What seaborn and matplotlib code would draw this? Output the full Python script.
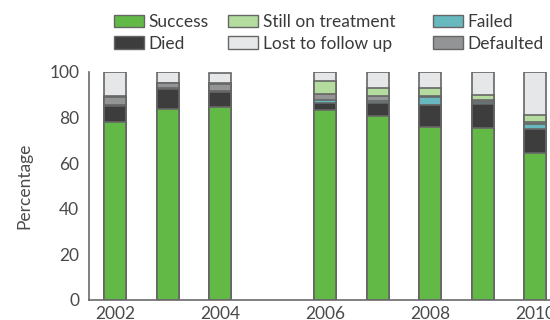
import matplotlib
matplotlib.use("Agg")
import matplotlib.pyplot as plt
from matplotlib.patches import Patch
import numpy as np
import pandas as pd
import seaborn as sns

# treatment outcome shares per cohort year (2005 has no data)
years = [2002, 2003, 2004, 2006, 2007, 2008, 2009, 2010]
success = [78.0, 83.7, 84.8, 83.4, 80.8, 75.7, 75.4, 64.5]
died = [7.0, 9.0, 6.5, 3.2, 5.8, 9.8, 10.5, 10.5]
failed = [0.5, 0.3, 0.2, 1.0, 0.7, 3.6, 0.8, 2.2]
defaulted = [3.5, 2.3, 3.2, 2.9, 2.1, 0.5, 0.8, 0.7]
still_on_treatment = [0.3, 0.0, 0.5, 5.5, 3.7, 3.6, 2.2, 3.2]
lost_to_follow_up = [10.7, 4.7, 4.3, 4.0, 6.9, 6.8, 10.3, 18.9]

outcomes = ["Success", "Died", "Failed", "Defaulted", "Still on treatment", "Lost to follow up"]
values = [success, died, failed, defaulted, still_on_treatment, lost_to_follow_up]
colors = {
    "Success": "#62b946",
    "Died": "#3d3d3d",
    "Failed": "#67b9bf",
    "Defaulted": "#939496",
    "Still on treatment": "#b3dc9e",
    "Lost to follow up": "#e6e7e8",
}

sns.set_style("white")
plt.rcParams["font.family"] = ["Lato", "DejaVu Sans"]
text_col = "#4a4a4a"

df = pd.DataFrame(dict(zip(outcomes, values)), index=years)
cum = df.cumsum(axis=1)

fig = plt.figure(figsize=(5.5, 3.2), dpi=100)
ax = fig.add_axes([89 / 550, 20 / 320, 472.5 / 550, 228 / 320])

# stacked bars: draw cumulative totals from the top layer down
for name in outcomes[::-1]:
    sns.barplot(x=years, y=cum[name].values, native_scale=True, width=0.42,
                color=colors[name], edgecolor="#666666", linewidth=1.2,
                saturation=1, errorbar=None, ax=ax)

ax.set_xlim(2001.5, 2010.5)
ax.set_ylim(0, 100)
ax.set_xticks([2002, 2004, 2006, 2008, 2010])
ax.set_xticklabels(["2002", "2004", "2006", "2008", "2010"])
ax.set_xticks(np.arange(2002.5, 2010, 1), minor=True)
ax.set_yticks([0, 20, 40, 60, 80, 100])
ax.tick_params(axis="x", which="major", length=0, pad=4, labelsize=12.5, labelcolor=text_col)
ax.tick_params(axis="x", which="minor", direction="in", length=5, width=1.2, color="#6a6a6a")
ax.tick_params(axis="y", direction="in", length=8, width=1.2, color="#6a6a6a",
               pad=7, labelsize=12.5, labelcolor=text_col)
ax.set_xlabel("")
ax.set_ylabel("Percentage", fontsize=12.5, color=text_col, labelpad=12)
for side in ["top", "right"]:
    ax.spines[side].set_visible(False)
for side in ["left", "bottom"]:
    ax.spines[side].set_color("#6a6a6a")
    ax.spines[side].set_linewidth(1.2)

# legend: three columns placed by hand
cols = [(["Success", "Died"], 114), (["Still on treatment", "Lost to follow up"], 228),
        (["Failed", "Defaulted"], 433)]
for names, xpix in cols:
    handles = [Patch(facecolor=colors[n], edgecolor="#666666", linewidth=1.0, label=n) for n in names]
    fig.legend(handles=handles, loc="upper left", bbox_to_anchor=(xpix / 550, 1 - 14 / 320),
               frameon=False, fontsize=12.5, labelcolor="#3a3a3a", handlelength=1.75,
               handleheight=0.7, handletextpad=0.25, labelspacing=0.32, borderpad=0,
               borderaxespad=0)

fig.savefig("out.png", dpi=100)
